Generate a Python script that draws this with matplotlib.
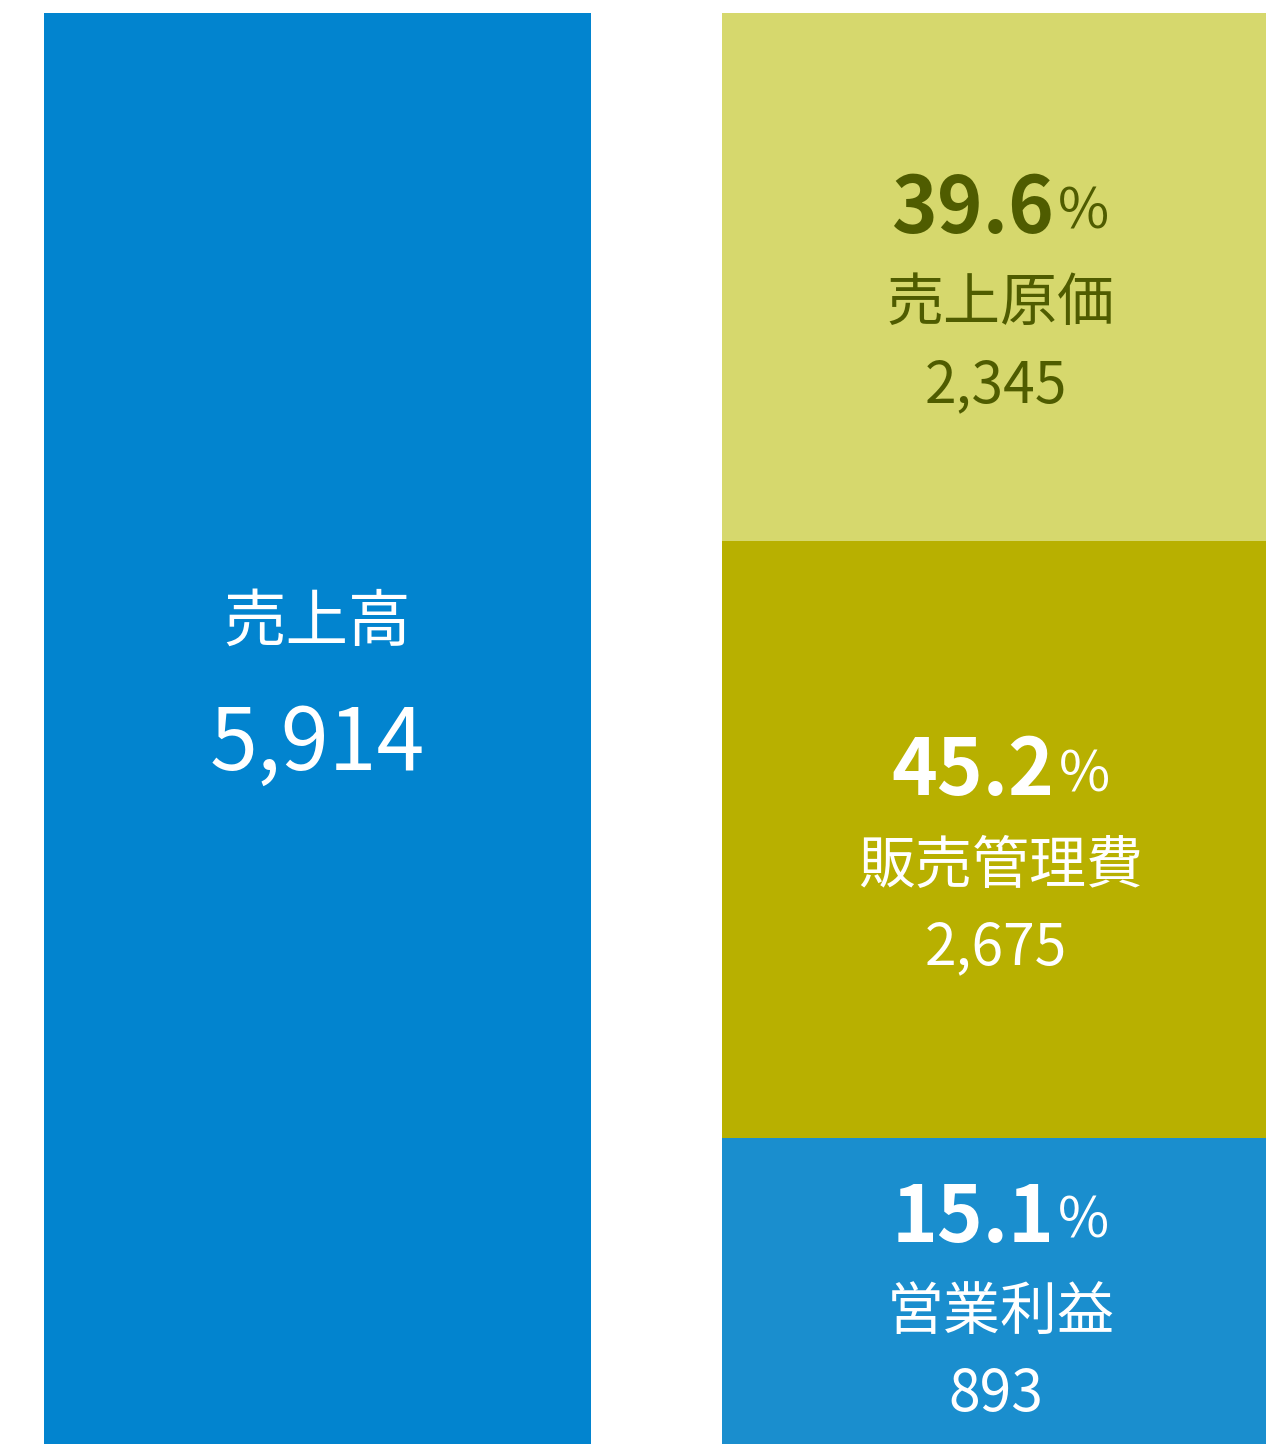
import matplotlib
matplotlib.use("Agg")
from matplotlib import pyplot as plt

plt.rcParams['font.family'] = ['Noto Sans CJK JP', 'DejaVu Sans']

# 売上高と内訳（百万円）
total_label = "売上高"
total_value = 5914

labels = ["営業利益", "販売管理費", "売上原価"]
values = [893, 2675, 2345]
ratios = [15.1, 45.2, 39.6]
# 図の中で各区画が占める高さ（%、図から読み取り。値に比例していない）
drawn_share = [21.4, 41.7, 36.9]

colors = ["#1A8ECE", "#B8B000", "#D6D86D"]
text_colors = ["white", "white", "#4F5C00"]
total_color = "#0284CF"

fig = plt.figure(figsize=(12.66, 14.44), dpi=100)
ax = fig.add_axes([0, 0, 1, 1])
ax.set_xlim(-0.4683, 1.3990)
ax.set_ylim(0, 100 * 1444 / 1431)
ax.axis('off')

width = 0.806
ax.bar(0, 100, width=width, color=total_color)

bottom = 0
centers = []
for h, c in zip(drawn_share, colors):
    ax.bar(1, h, width=width, bottom=bottom, color=c)
    centers.append(bottom + h / 2)
    bottom += h

# 左の棒
ax.annotate(total_label, (0, 50), xytext=(0, 106), textcoords='offset pixels',
            ha='center', va='center', color='white', fontsize=45)
ax.annotate(f"{total_value:,}", (0, 50), xytext=(0, -17), textcoords='offset pixels',
            ha='center', va='center', color='white', fontsize=62)

fig.canvas.draw()
renderer = fig.canvas.get_renderer()

label_shift = [-22, -27, -27]
for lab, v, r, yc, tc, dy in zip(labels, values, ratios, centers, text_colors, label_shift):
    ax.annotate(lab, (1, yc), xytext=(5, dy), textcoords='offset pixels',
                ha='center', va='center', color=tc, fontsize=41)
    ax.annotate(f"{v:,}", (1, yc), xytext=(0, dy - 82), textcoords='offset pixels',
                ha='center', va='center', color=tc, fontsize=41)
    num = ax.annotate(f"{r:.1f}", (1, yc), xytext=(0, dy + 94), textcoords='offset pixels',
                      ha='center', va='center', color=tc, fontsize=56, fontweight='bold')
    pct = ax.annotate("%", (1, yc), xytext=(0, dy + 91), textcoords='offset pixels',
                      ha='center', va='center', color=tc, fontsize=40)
    w1 = num.get_window_extent(renderer).width
    w2 = pct.get_window_extent(renderer).width
    gap = 4
    tot = w1 + w2 + gap
    num.xyann = (5 - tot / 2 + w1 / 2, dy + 94)
    pct.xyann = (5 - tot / 2 + w1 + gap + w2 / 2, dy + 91)

fig.savefig("out.png", dpi=100)
